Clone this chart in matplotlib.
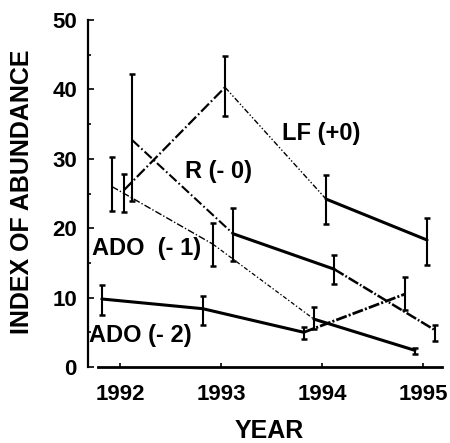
import numpy as np
import matplotlib
matplotlib.use("Agg")
import matplotlib.pyplot as plt

plt.rcParams['font.family'] = ['Liberation Sans', 'DejaVu Sans']
plt.rcParams['font.weight'] = 'bold'
plt.rcParams['lines.scale_dashes'] = False

# datos
years = [1992, 1993, 1994, 1995]

lf = [25.5, 40.3, 24.2, 18.3]
lf_hi = [27.8, 44.8, 27.7, 21.4]
lf_lo = [22.3, 36.2, 20.6, 14.7]

r0 = [32.7, 19.2, 14.1, 5.3]
r0_hi = [42.2, 22.9, 16.1, 6.0]
r0_lo = [23.9, 15.3, 12.0, 3.7]

ado1 = [26.0, 17.7, 6.9, 2.4]
ado1_hi = [30.3, 20.8, 8.6, 2.8]
ado1_lo = [22.5, 14.6, 5.5, 1.9]

ado2 = [9.8, 8.4, 5.0, 10.5]
ado2_hi = [11.8, 10.2, 5.8, 13.0]
ado2_lo = [7.5, 6.1, 4.0, 8.2]

labels = ['LF (+0)', 'R (- 0)', 'ADO  (- 1)', 'ADO (- 2)']

# estilo de cada tramo: (grosor, patron de guiones o None = continuo)
solid_thick = (2.2, None)
series = [
    (lf, lf_hi, lf_lo, 0.04,
     [(1.6, (8, 2, 1.2, 2)), (1.0, (4, 1.5, 1, 1.5, 1, 1.5)), solid_thick]),
    (r0, r0_hi, r0_lo, 0.12,
     [(1.5, (7, 2, 1.2, 2)), solid_thick, (1.8, (8, 1.5, 1.2, 1.5))]),
    (ado1, ado1_hi, ado1_lo, -0.08,
     [(1.0, (5, 1.5, 1, 1.5)), (0.9, (3, 1.5, 1, 1.5)), solid_thick]),
    (ado2, ado2_hi, ado2_lo, -0.18,
     [solid_thick, solid_thick, (2.0, (8, 1.5, 1.5, 1.5))]),
]

fig = plt.figure(figsize=(4.5, 4.43), dpi=100)
ax = fig.add_axes([88 / 450, 76 / 443, 357 / 450, 347 / 443])

for vals, hi, lo, off, styles in series:
    x = np.array(years) + off
    y = np.array(vals)
    for i in range(len(x) - 1):
        lw, dash = styles[i]
        if dash is None:
            ax.plot(x[i:i + 2], y[i:i + 2], color='black', lw=lw,
                    solid_capstyle='round')
        else:
            ax.plot(x[i:i + 2], y[i:i + 2], color='black', lw=lw,
                    linestyle=(0, dash))
    err = [y - np.array(lo), np.array(hi) - y]
    ax.errorbar(x, y, yerr=err, fmt='none', ecolor='black',
                elinewidth=1.5, capsize=2.5, capthick=1.8)

# etiquetas de las series
ax.text(1993.60, 33.6, labels[0], fontsize=17, va='center', ha='left')
ax.text(1992.64, 28.1, labels[1], fontsize=17, va='center', ha='left')
ax.text(1991.72, 17.1, labels[2], fontsize=17, va='center', ha='left')
ax.text(1991.69, 4.6, labels[3], fontsize=17, va='center', ha='left')

ax.set_xlim(1991.683, 1995.218)
ax.set_ylim(0, 50)
ax.spines['top'].set_visible(False)
ax.spines['right'].set_visible(False)
ax.spines['left'].set_linewidth(1.6)
ax.spines['bottom'].set_linewidth(2.0)
ax.spines['bottom'].set_bounds(1991.78, 1995.19)

ax.set_xticks(years)
ax.set_yticks(np.arange(0, 51, 10))
ax.set_yticks(np.arange(5, 50, 10), minor=True)
ax.tick_params(axis='y', which='major', direction='in', length=4, width=1.2,
               labelsize=16, pad=8)
ax.tick_params(axis='y', which='minor', direction='in', length=2.5, width=1.2)
ax.tick_params(axis='x', direction='in', length=3, width=1.2,
               labelsize=16, pad=12)
for t in ax.get_xticklabels() + ax.get_yticklabels():
    t.set_fontweight('bold')

ax.set_xlabel('YEAR', fontsize=18, fontweight='bold')
ax.set_ylabel('INDEX OF ABUNDANCE', fontsize=18, fontweight='bold')
ax.xaxis.set_label_coords(0.507, -0.15)
ax.yaxis.set_label_coords(-0.152, 0.504)

fig.savefig('out.png', dpi=100)
